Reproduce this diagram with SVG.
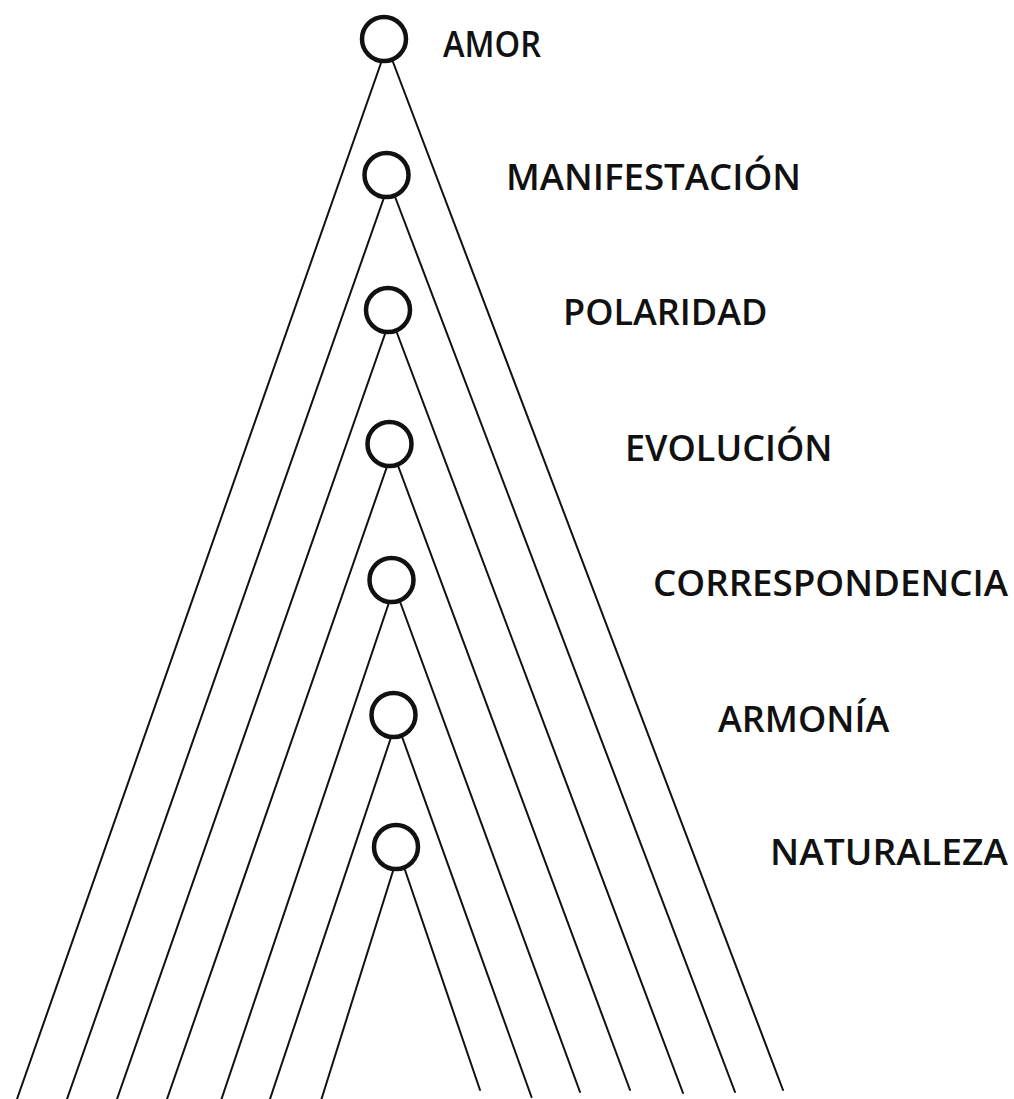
<svg xmlns="http://www.w3.org/2000/svg" width="1014" height="1099" viewBox="0 0 1014 1099">
<style>
.node circle{fill:none;stroke:#111;stroke-width:4.5}
.node text{font-family:"Open Sans","Noto Sans","Liberation Sans",sans-serif;font-size:36px;font-weight:600;fill:#111}
#connectors line{stroke:#111;stroke-width:2;stroke-linecap:round}
</style>
<rect width="1014" height="1099" fill="#fff"/>
<g id="connectors">
<line x1="381" y1="63" x2="17" y2="1099"/>
<line x1="393" y1="62" x2="783" y2="1090"/>
<line x1="383.5" y1="199" x2="67" y2="1099"/>
<line x1="395.5" y1="198" x2="735" y2="1092"/>
<line x1="385" y1="334" x2="117" y2="1099"/>
<line x1="397" y1="333" x2="683" y2="1093"/>
<line x1="386.5" y1="468" x2="167" y2="1099"/>
<line x1="398.5" y1="467" x2="630" y2="1090"/>
<line x1="388.5" y1="604" x2="221.5" y2="1099"/>
<line x1="400.5" y1="603" x2="580" y2="1092"/>
<line x1="390.5" y1="739" x2="270" y2="1099"/>
<line x1="402.5" y1="738" x2="531.5" y2="1097"/>
<line x1="393" y1="871" x2="321.5" y2="1099"/>
<line x1="405" y1="870" x2="480" y2="1090"/>
</g>
<g id="amor" class="node"><circle cx="384" cy="39" r="22"/><text x="443" y="57" textLength="98" lengthAdjust="spacingAndGlyphs">AMOR</text></g>
<g id="manifestacion" class="node"><circle cx="386.5" cy="175" r="22"/><text x="506" y="190" textLength="295" lengthAdjust="spacingAndGlyphs">MANIFESTACIÓN</text></g>
<g id="polaridad" class="node"><circle cx="388" cy="310" r="22"/><text x="563" y="325">POLARIDAD</text></g>
<g id="evolucion" class="node"><circle cx="389.5" cy="444" r="22"/><text x="625" y="461">EVOLUCIÓN</text></g>
<g id="correspondencia" class="node"><circle cx="391.5" cy="580" r="22"/><text x="653" y="596" textLength="355" lengthAdjust="spacingAndGlyphs">CORRESPONDENCIA</text></g>
<g id="armonia" class="node"><circle cx="393.5" cy="715" r="22"/><text x="718" y="732">ARMONÍA</text></g>
<g id="naturaleza" class="node"><circle cx="396" cy="847" r="22"/><text x="770" y="865" textLength="238" lengthAdjust="spacingAndGlyphs">NATURALEZA</text></g>
</svg>
